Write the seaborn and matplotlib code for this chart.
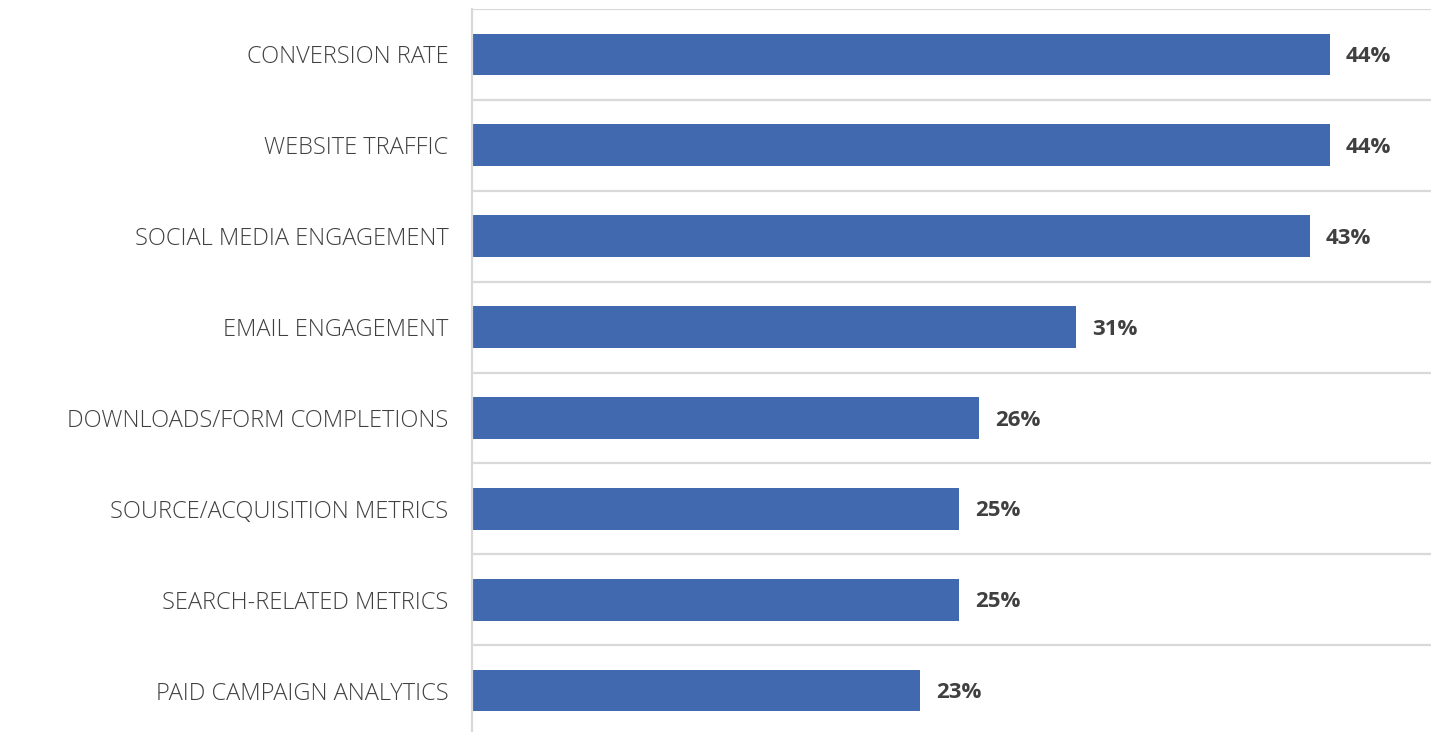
import matplotlib
matplotlib.use("Agg")
import matplotlib.pyplot as plt
from matplotlib.ticker import FixedLocator
import seaborn as sns
import pandas as pd

categories = [
    "CONVERSION RATE",
    "WEBSITE TRAFFIC",
    "SOCIAL MEDIA ENGAGEMENT",
    "EMAIL ENGAGEMENT",
    "DOWNLOADS/FORM COMPLETIONS",
    "SOURCE/ACQUISITION METRICS",
    "SEARCH-RELATED METRICS",
    "PAID CAMPAIGN ANALYTICS",
]
values = [44, 44, 43, 31, 26, 25, 25, 23]
value_labels = [f"{v}%" for v in values]

df = pd.DataFrame({"metric": categories, "share": values})

sns.set_theme(style="white")
plt.rcParams["font.family"] = ["Open Sans", "DejaVu Sans"]

W, H = 1431, 732
fig = plt.figure(figsize=(W / 100, H / 100), dpi=100)
ax = fig.add_axes([472 / W, -4 / H, 959 / W, 727 / H])

sns.barplot(data=df, x="share", y="metric", orient="h", color="#4169B0",
            width=0.46, saturation=1, ax=ax, edgecolor="none")

ax.set_xlim(0, 49.2)
ax.set_ylim(7.5, -0.5)

# light separators between category bands
ax.yaxis.set_minor_locator(FixedLocator([i - 0.5 for i in range(len(categories) + 1)]))
ax.grid(which="minor", axis="y", color="#D9D9D9", linewidth=1.6)
ax.grid(which="major", visible=False)
ax.set_axisbelow(True)
ax.tick_params(axis="y", which="both", length=0, pad=17)
ax.tick_params(axis="x", which="both", length=0)
ax.set_xticks([])
ax.set_xlabel("")
ax.set_ylabel("")

for s in ["top", "right", "bottom"]:
    ax.spines[s].set_visible(False)
ax.spines["left"].set_color("#D9D9D9")
ax.spines["left"].set_linewidth(1.6)

for lbl in ax.get_yticklabels():
    lbl.set_fontsize(17)
    lbl.set_color("#404040")
    lbl.set_fontweight("light")

for i, (v, t) in enumerate(zip(values, value_labels)):
    ax.annotate(t, xy=(v, i), xytext=(11.5, -1.5), textcoords="offset points",
                ha="left", va="center", fontsize=16, fontweight="bold",
                color="#404040")

fig.savefig("out.png", dpi=100)
